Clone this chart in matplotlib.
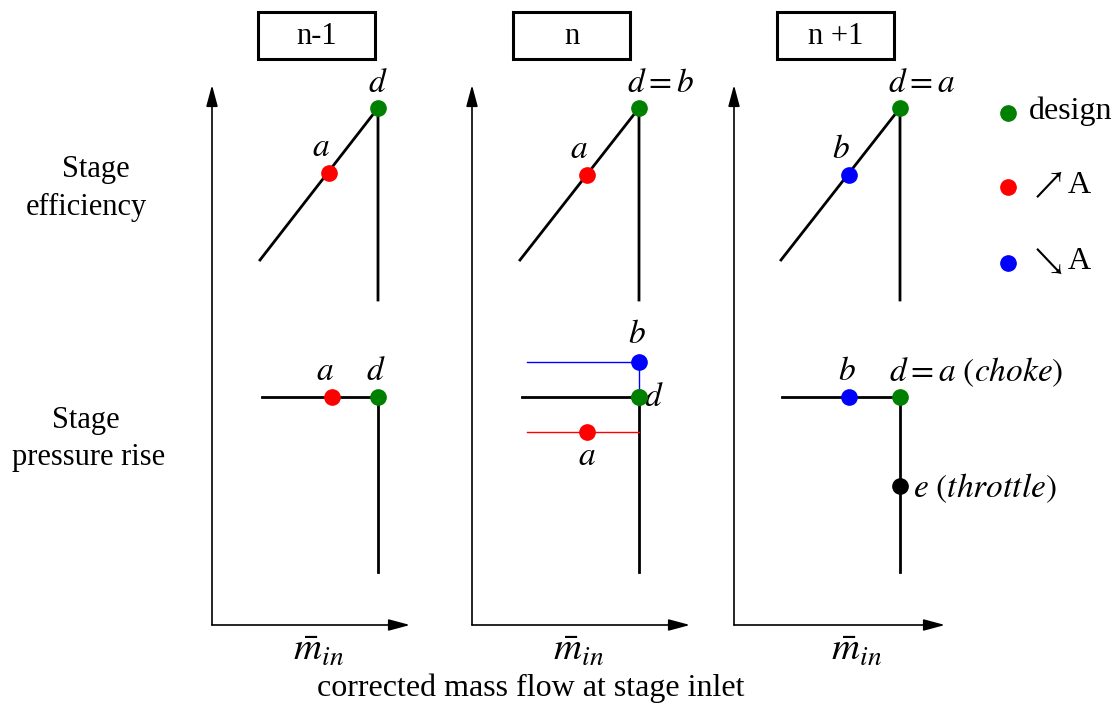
import matplotlib
matplotlib.use("Agg")
from matplotlib import pyplot as plt
from matplotlib.patches import Rectangle

plt.rcParams['font.family'] = ['Liberation Serif', 'DejaVu Serif']
plt.rcParams['mathtext.fontset'] = 'stix'

# schematic coordinates, in picture pixels (y down)
panel_titles = ["n-1", "n", "n +1"]
box_left = [258, 513, 777]
box_width = 117
axis_x0 = [212, 472, 734]       # vertical axis of each panel
axis_x1 = [410, 690, 945]       # end of horizontal arrow
axis_top = 85
axis_y = 625
mdot_x = [319, 579, 857]

# efficiency row: diagonal to the design point then vertical drop
eff_start_x = [260, 520, 781]
eff_design_x = [378, 639, 900]
eff_start_y = 260
eff_design_y = 108
eff_bottom_y = 300
eff_pt_x = [329, 587, 849]
eff_pt_y = [173, 175, 175]
eff_pt_col = ["red", "red", "blue"]
eff_pt_lab = ["$a$", "$a$", "$b$"]
eff_d_lab = ["$d$", "$d=b$", "$d=a$"]

# pressure rise row
pr_start_x = [262, 522, 782]
pr_y = 397
pr_bottom_y = 572
pr_pt_x = [332, 849]
pr_pt_lab = ["$a$", "$b$"]

legend_y = [113, 187, 263]
legend_col = ["green", "red", "blue"]
legend_txt = ["design", r"$\nearrow$A", r"$\searrow$A"]

row_lines = ["Stage", "efficiency", "Stage", "pressure rise"]
row_x = [96, 86, 86, 89]
row_base = [177, 215, 428, 465]

fig = plt.figure(figsize=(11.15, 7.04), dpi=100)
ax = fig.add_axes([0, 0, 1, 1])
ax.set_xlim(0, 1115)
ax.set_ylim(704, 0)
ax.axis('off')

fs = 22
mfs = 24
ms = 11
arrow = dict(arrowstyle='-|>,head_length=1.3,head_width=0.35', color='black', lw=1.2,
             shrinkA=0, shrinkB=0)

for i in range(3):
    ax.add_patch(Rectangle((box_left[i], 12), box_width, 47, fill=False, lw=2.2, ec='black'))
    ax.text(box_left[i] + box_width / 2, 37, panel_titles[i], ha='center', va='center', fontsize=fs)
    # axes
    ax.annotate('', xy=(axis_x0[i], axis_top), xytext=(axis_x0[i], axis_y), arrowprops=arrow)
    ax.annotate('', xy=(axis_x1[i], axis_y), xytext=(axis_x0[i], axis_y), arrowprops=arrow)
    ax.text(mdot_x[i], 651, r"$\bar{m}_{in}$", ha='center', va='center', fontsize=28)

    # efficiency curve
    ax.plot([eff_start_x[i], eff_design_x[i], eff_design_x[i]],
            [eff_start_y, eff_design_y, eff_bottom_y], color='black', lw=2)
    ax.plot(eff_pt_x[i], eff_pt_y[i], 'o', color=eff_pt_col[i], ms=ms, zorder=5)
    ax.plot(eff_design_x[i], eff_design_y, 'o', color='green', ms=ms, zorder=5)
    ax.text(eff_pt_x[i] - 8, eff_pt_y[i] - 25, eff_pt_lab[i], ha='center', va='center', fontsize=mfs)
    if i == 0:
        ax.text(eff_design_x[i], 84, eff_d_lab[i], ha='center', va='center', fontsize=mfs)
    else:
        ax.text(eff_design_x[i] - 12, 84, eff_d_lab[i], ha='left', va='center', fontsize=mfs)

    # pressure rise curve
    ax.plot([pr_start_x[i], eff_design_x[i], eff_design_x[i]],
            [pr_y, pr_y, pr_bottom_y], color='black', lw=2)
    ax.plot(eff_design_x[i], pr_y, 'o', color='green', ms=ms, zorder=5)

# panel n-1 pressure
ax.plot(pr_pt_x[0], pr_y, 'o', color='red', ms=ms, zorder=5)
ax.text(325, 372, "$a$", ha='center', va='center', fontsize=mfs)
ax.text(376, 372, "$d$", ha='center', va='center', fontsize=mfs)

# panel n pressure: shifted lines
blue_y, red_y = 362, 432
ax.plot([527, 639, 639], [blue_y, blue_y, pr_y], color='blue', lw=1)
ax.plot([527, 639], [red_y, red_y], color='red', lw=1)
ax.plot(639, blue_y, 'o', color='blue', ms=ms, zorder=5)
ax.plot(587, red_y, 'o', color='red', ms=ms, zorder=5)
ax.plot(639, pr_y, 'o', color='green', ms=ms, zorder=6)
ax.text(637, 335, "$b$", ha='center', va='center', fontsize=mfs)
ax.text(644, 398, "$d$", ha='left', va='center', fontsize=mfs)
ax.text(587, 457, "$a$", ha='center', va='center', fontsize=mfs)

# panel n+1 pressure
ax.plot(pr_pt_x[1], pr_y, 'o', color='blue', ms=ms, zorder=5)
ax.plot(900, 486, 'o', color='black', ms=ms, zorder=5)
ax.text(847, 372, "$b$", ha='center', va='center', fontsize=mfs)
ax.text(889, 372, r"$d=a\ (choke)$", ha='left', va='center', fontsize=mfs)
ax.text(913, 488, r"$e\ (throttle)$", ha='left', va='center', fontsize=mfs)

# legend
for y, c, t in zip(legend_y, legend_col, legend_txt):
    ax.plot(1008, y, 'o', color=c, ms=ms)
    ax.text(1029, y - 2, t, ha='left', va='center', fontsize=23)

# row and axis captions
for t, x, y in zip(row_lines, row_x, row_base):
    ax.text(x, y, t, ha='center', va='baseline', fontsize=fs)
ax.text(531, 688, "corrected mass flow at stage inlet", ha='center', va='center', fontsize=23)

fig.savefig("out.png", dpi=100)
